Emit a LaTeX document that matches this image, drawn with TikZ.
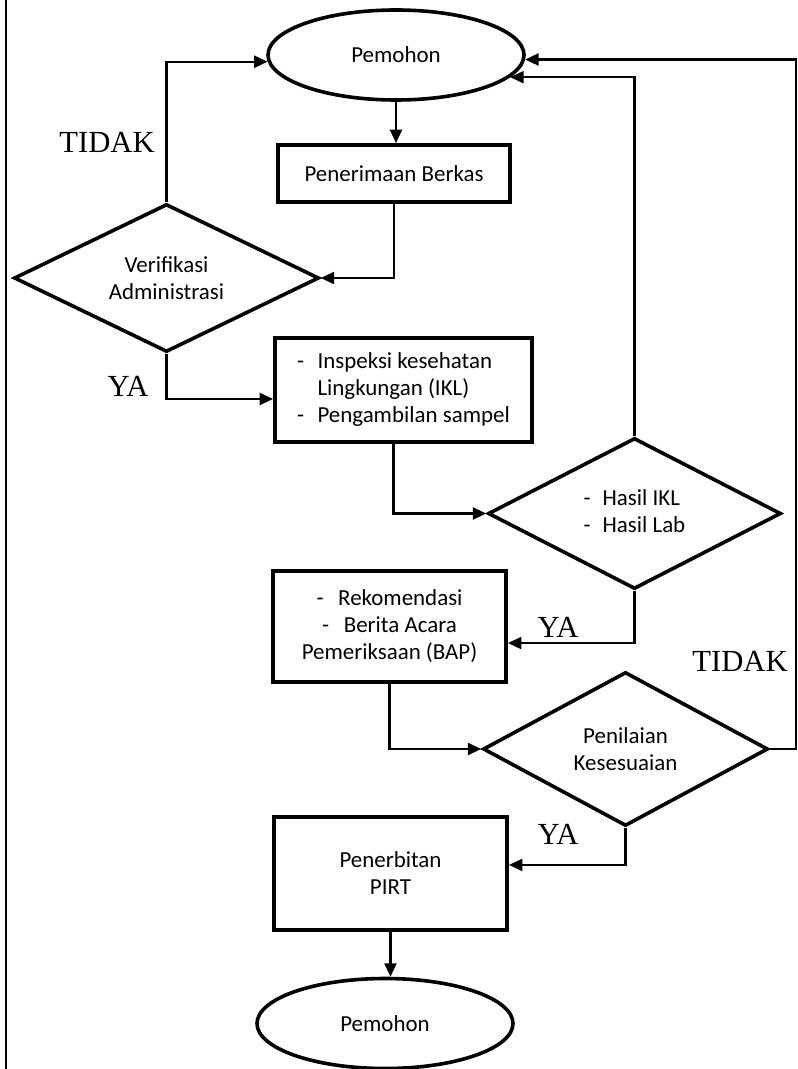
\documentclass[tikz,border=0pt]{standalone}
\usepackage{fontspec}
\setmainfont{Carlito}
\newfontfamily\labserif{Liberation Serif}
\usetikzlibrary{shapes.geometric,arrows.meta}
\begin{document}
\begin{tikzpicture}[x=0.75pt,y=-0.75pt,
  every node/.style={font=\fontsize{17.2}{20.25}\selectfont},
  term/.style={ellipse,draw,line width=2.7pt,minimum width=192pt,minimum height=67.5pt,inner sep=0pt},
  proc/.style={rectangle,draw,line width=3pt,align=center,inner sep=0pt},
  dec/.style={diamond,draw,line width=2.7pt,aspect=2,align=center,inner sep=0pt},
  conn/.style={line width=1.6pt,-{Triangle[length=10pt,width=9pt]}},
  lab/.style={font=\labserif\fontsize{23}{26}\selectfont,inner sep=0pt}]
\useasboundingbox (0,0) rectangle (798,1069);
\draw[line width=1.5pt] (6,0) -- (6,1069);

\node[term] (p1) at (396,55) {Pemohon};
\node[proc,minimum width=174pt,minimum height=42.75pt] (pb) at (394,173.5) {Penerimaan Berkas};
\node[dec,minimum width=228.75pt,minimum height=111pt] (va) at (166.5,278) {Verifikasi\\Administrasi};
\node[proc,minimum width=192.75pt,minimum height=78pt] (ik) at (403.5,390)
  {\begin{tabular}{@{}l@{\hspace{10pt}}l@{}}-&Inspeksi kesehatan\\&Lingkungan (IKL)\\-&Pengambilan sampel\end{tabular}};
\node[dec,minimum width=219.75pt,minimum height=113.25pt] (hs) at (634.5,513.5)
  {\begin{tabular}{@{}l@{\hspace{9pt}}l@{}}-&Hasil IKL\\-&Hasil Lab\end{tabular}};
\node[proc,minimum width=174.75pt,minimum height=83.25pt] (rk) at (389.5,626.5)
  {-\hspace{11pt}Rekomendasi\\-\hspace{11pt}Berita Acara\\Pemeriksaan (BAP)};
\node[dec,minimum width=213.75pt,minimum height=115.5pt] (pk) at (625.5,749) {Penilaian\\Kesesuaian};
\node[proc,minimum width=174.75pt,minimum height=84.75pt] (pp) at (390.5,873.5) {Penerbitan\\PIRT};
\node[term] (p2) at (385,1023.5) {Pemohon};

\coordinate (rc) at (796,749);

\draw[conn] (p1.south) -- (p1.south |- pb.north);
\draw[conn] (pb.south) |- (va.east);
\draw[conn] (va.north) |- (p1.183);
\draw[conn] (pk.east) -- (rc) |- (p1.358);
\draw[conn] (hs.north) |- (p1.349);
\draw[conn] (va.south) |- ([yshift=-6.75pt]ik.west);
\draw[conn] ([xshift=-7.5pt]ik.south) |- (hs.west);
\draw[conn] (hs.south) |- ([yshift=-12.4pt]rk.east);
\draw[conn] (rk.south) |- (pk.west);
\draw[conn] (pk.south) |- ([yshift=6.4pt]pp.east);
\draw[conn] (pp.south) -- (pp.south |- p2.north);

\node[lab] (t1) at (107,142) {TIDAK};
\node[lab] (y1) at (128,386) {YA};
\node[lab] (y2) at (558,627) {YA};
\node[lab] (t2) at (740,661) {TIDAK};
\node[lab] (y3) at (558,834) {YA};
\end{tikzpicture}
\end{document}
